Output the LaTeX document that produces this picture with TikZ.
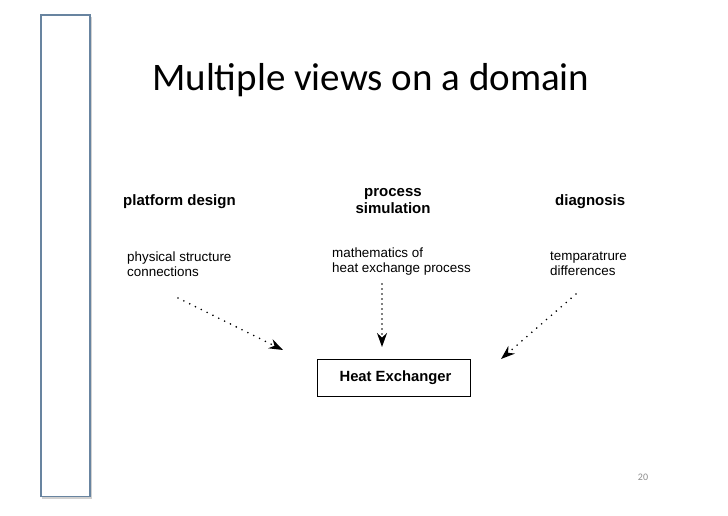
\documentclass[tikz,border=0pt]{standalone}
\usepackage{fontspec}
\setmainfont{Liberation Sans}
\newfontfamily\titlefont{Carlito}
\usetikzlibrary{arrows.meta}
\definecolor{barblue}{RGB}{104,132,160}
\definecolor{pagegray}{RGB}{140,140,140}
\tikzset{
  head/.style={font=\bfseries\fontsize{15}{17}\selectfont, inner sep=0pt},
  desc/.style={font=\fontsize{13.4}{14.5}\selectfont, inner sep=0pt, align=left},
  dotarrow/.style={line width=1.8pt, line cap=round, dash pattern=on 0pt off 6.5pt, -{Stealth[length=14pt,width=10pt,line cap=butt]}},
}
\begin{document}
\begin{tikzpicture}[x=1pt,y=-1pt]
\useasboundingbox (0,0) rectangle (728,515);
% left bar with shadow
\fill[black!18] (42,16.5) rectangle (91.5,498.5);
\draw[barblue, line width=1.1pt, fill=white] (41,15) rectangle (90,496.5);
% title
\node[anchor=base west, inner sep=0pt, font=\titlefont\fontsize{39}{44}\selectfont] (title) at (152,90) {Multiple views on a domain};
% headings
\node[head, anchor=west] (pd) at (123,202) {platform design};
\node[head, align=center] (ps) at (393,201) {process\\simulation};
\node[head, anchor=west] (dg) at (555,202) {diagnosis};
% descriptions
\node[desc, anchor=north west] (d1) at (127,252) {physical structure\\connections};
\node[desc, anchor=north west] (d2) at (332,248) {mathematics of\\heat exchange process};
\node[desc, anchor=north west] (d3) at (550,252) {temparatrure\\differences};
% box
\node[draw, line width=0.8pt, minimum width=153pt, minimum height=37pt, inner sep=0pt, font=\bfseries\fontsize{14.8}{17}\selectfont] (hx) at (393.5,377.5) {\hspace*{4pt}Heat Exchanger};
% arrow ends
\coordinate (s1) at (178,298);
\coordinate (e1) at (283,350);
\coordinate (s2) at (382,284);
\coordinate (e2) at (382,347);
\coordinate (s3) at (576,294);
\coordinate (e3) at (501,359);
\draw[dotarrow] (s1) -- (e1);
\draw[dotarrow, dash pattern=on 0pt off 5pt] (s2) -- (e2);
\draw[dotarrow] (s3) -- (e3);
% page number
\node[inner sep=0pt, text=pagegray, font=\titlefont\fontsize{10}{11}\selectfont] (pg) at (643,477) {20};
\end{tikzpicture}
\end{document}
